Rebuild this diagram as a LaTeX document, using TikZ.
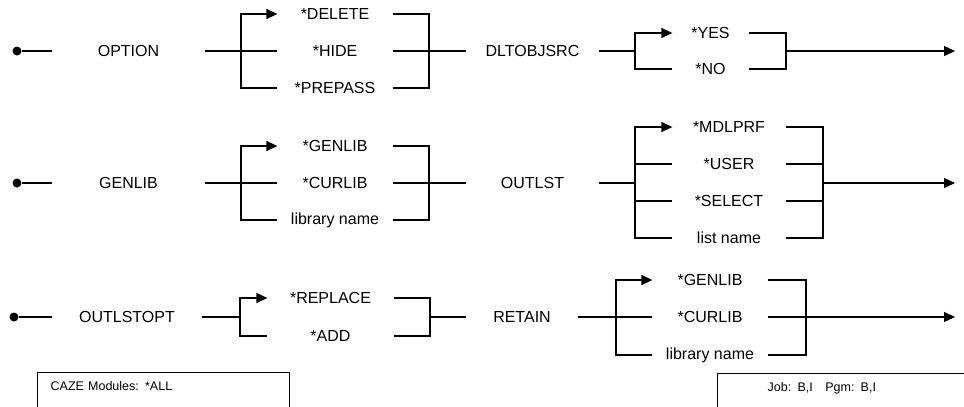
\documentclass[tikz,border=0pt]{standalone}
\usepackage{fontspec}
\setmainfont{Liberation Sans}
\usetikzlibrary{arrows.meta, positioning}

\begin{document}
\begin{tikzpicture}[x=1pt, y=-1pt, line width=1.3pt,
  kw/.style={minimum width=#1, minimum height=20pt, inner sep=0pt, font=\fontsize{16}{19}\selectfont},
  dot/.style={circle, fill, inner sep=0pt, minimum size=9pt},
  tip/.style={-{Triangle[length=11pt,width=10pt]}},
  panel/.style={draw, anchor=north west, align=left, font=\fontsize{12.5}{14}\selectfont, text height=9pt, inner ysep=9pt}]
  \clip (0,0) rectangle (964,407);

  % OPTION / DLTOBJSRC
  \node[dot] (s1) at (17,51) {};
  \node[kw=151pt] (option) at (128.5,51) {OPTION};
  \coordinate (j1) at (241,51);
  \node[kw=114pt] (delete) at (335,14) {*DELETE};
  \node[kw=114pt] (hide) at (335,51) {*HIDE};
  \node[kw=114pt] (prepass) at (335,88) {*PREPASS};
  \coordinate (k1) at (429,51);
  \node[kw=131pt] (dlt) at (532.5,51) {DLTOBJSRC};
  \coordinate (j2) at (635,51);
  \node[kw=75pt] (yes) at (710.5,33) {*YES};
  \node[kw=75pt] (no) at (710.5,69) {*NO};
  \coordinate (k2) at (786,51);
  \coordinate (e1) at (955,51);

  \draw (s1) -- (option);
  \draw (option) -- (hide);
  \draw[tip] (j1) |- (delete);
  \draw (j1) |- (prepass);
  \draw (delete) -| (k1);
  \draw (prepass) -| (k1);
  \draw (hide) -- (dlt);
  \draw (dlt) -- (j2);
  \draw[tip] (j2) |- (yes);
  \draw (j2) |- (no);
  \draw (yes) -| (k2);
  \draw (no) -| (k2);
  \draw[tip] (k2) -- (e1);

  % GENLIB / OUTLST
  \node[dot] (s2) at (17,183) {};
  \node[kw=151pt] (genlib) at (128.5,183) {GENLIB};
  \coordinate (j3) at (241,183);
  \node[kw=114pt] (gengen) at (335,146) {*GENLIB};
  \node[kw=114pt] (gencur) at (335,183) {*CURLIB};
  \node[kw=114pt] (genlibn) at (335,220) {library name};
  \coordinate (k3) at (429,183);
  \node[kw=131pt] (outlst) at (532.5,183) {OUTLST};
  \coordinate (j4) at (635,183);
  \node[kw=112pt] (mdlprf) at (729,127) {*MDLPRF};
  \node[kw=112pt] (user) at (729,164) {*USER};
  \node[kw=112pt] (select) at (729,201) {*SELECT};
  \node[kw=112pt] (lstname) at (729,238) {list name};
  \coordinate (k4) at (823,183);
  \coordinate (e2) at (955,183);

  \draw (s2) -- (genlib);
  \draw (genlib) -- (gencur);
  \draw[tip] (j3) |- (gengen);
  \draw (j3) |- (genlibn);
  \draw (gengen) -| (k3);
  \draw (genlibn) -| (k3);
  \draw (gencur) -- (outlst);
  \draw (outlst) -- (j4);
  \draw[tip] (j4) |- (mdlprf);
  \draw (j4) |- (user);
  \draw (j4) |- (select);
  \draw (j4) |- (lstname);
  \draw (mdlprf) -| (k4);
  \draw (user) -| (k4);
  \draw (select) -| (k4);
  \draw (lstname) -| (k4);
  \draw[tip] (k4) -- (e2);

  % OUTLSTOPT / RETAIN
  \node[dot] (s3) at (14,317) {};
  \node[kw=148pt] (outopt) at (127,317) {OUTLSTOPT};
  \coordinate (j5) at (240,317);
  \node[kw=125pt] (replace) at (330.5,298) {*REPLACE};
  \node[kw=125pt] (add) at (330.5,336) {*ADD};
  \coordinate (k5) at (430,317);
  \node[kw=110pt] (retain) at (522,317) {RETAIN};
  \coordinate (j6) at (616,317);
  \node[kw=114pt] (retgen) at (710,280) {*GENLIB};
  \node[kw=114pt] (retcur) at (710,317) {*CURLIB};
  \node[kw=114pt] (retlibn) at (710,355) {library name};
  \coordinate (k6) at (806,317);
  \coordinate (e3) at (955,317);

  \draw (s3) -- (outopt);
  \draw (outopt) -- (j5);
  \draw[tip] (j5) |- (replace);
  \draw (j5) |- (add);
  \draw (replace) -| (k5);
  \draw (add) -| (k5);
  \draw (k5) -- (retain);
  \draw (retain) -- (retcur);
  \draw[tip] (j6) |- (retgen);
  \draw (j6) |- (retlibn);
  \draw (retgen) -| (k6);
  \draw (retlibn) -| (k6);
  \draw[tip] (retcur) -- (e3);

  % footer boxes
  \node[panel, text width=226pt, inner xsep=13pt, text depth=40pt] (mods) at (37,372) {CAZE Modules: *ALL};
  \node[panel, text width=250pt, inner xsep=50pt, text depth=40pt] (job) at (717,373) {Job: B,I\quad Pgm: B,I};
\end{tikzpicture}
\end{document}
